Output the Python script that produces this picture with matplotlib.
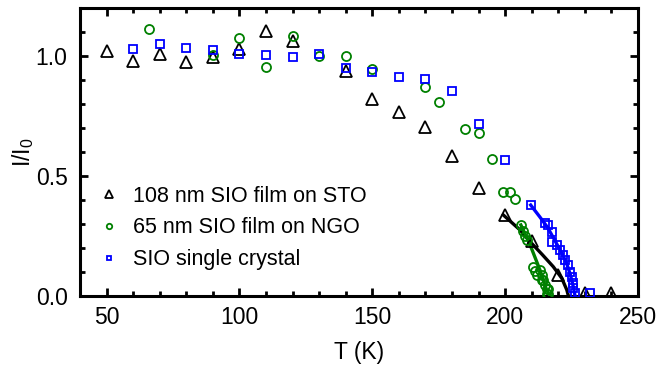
import numpy as np
import matplotlib
matplotlib.use('Agg')
import matplotlib.pyplot as plt
from matplotlib.ticker import MultipleLocator

plt.rcParams['font.family'] = ['Liberation Sans', 'DejaVu Sans']
plt.rcParams['mathtext.fontset'] = 'custom'
plt.rcParams['mathtext.rm'] = 'Liberation Sans'
plt.rcParams['mathtext.it'] = 'Liberation Sans'

# 108 nm SIO film on STO (triangles)
t_sto = [50, 60, 70, 80, 90, 100, 110, 120, 140, 150, 160, 170, 180, 190, 200, 210, 220, 230, 240]
i_sto = [1.022, 0.98, 1.01, 0.976, 0.996, 1.03, 1.105, 1.064, 0.939, 0.82, 0.767, 0.703, 0.585, 0.449,
         0.337, 0.23, 0.0875, 0.011, 0.011]

# 65 nm SIO film on NGO (circles)
t_ngo = [66, 90, 100, 110, 120, 130, 140, 150, 170, 175, 185, 190, 195, 199.3, 201.8, 203.7,
         205.9, 206.8, 207.5, 208.1, 210.6, 211.3, 211.9, 213.1, 213.8, 214.0, 214.4, 215.0,
         215.6, 216.3, 215.6, 216.1]
i_ngo = [1.112, 1.004, 1.076, 0.953, 1.085, 1.0, 1.0, 0.945, 0.869, 0.807, 0.694, 0.678, 0.57, 0.435,
         0.435, 0.403, 0.296, 0.27, 0.25, 0.233, 0.122, 0.105, 0.0875, 0.108, 0.0875, 0.067,
         0.067, 0.046, 0.03, 0.03, 0.01, 0.008]

# SIO single crystal (squares)
t_sc = [60, 70, 80, 90, 100, 110, 120, 130, 140, 150, 160, 170, 180, 190, 200, 209.6,
        215.0, 216.3, 217.5, 217.5, 219.4, 220.7, 221.6, 222.5, 223.8, 224.4, 225.1, 225.4,
        225.6, 226.3, 231.9]
i_sc = [1.028, 1.05, 1.032, 1.025, 1.007, 1.004, 0.994, 1.007, 0.949, 0.932, 0.914, 0.904, 0.855,
        0.717, 0.565, 0.379, 0.303, 0.296, 0.268, 0.226, 0.212, 0.192, 0.171, 0.15, 0.129,
        0.101, 0.08, 0.055, 0.032, 0.011, 0.011]

# fit curves near the transition
fit_t_sto = [199.3, 205.6, 209.4, 214.0, 218.1, 221.3, 223.2, 223.8]
fit_i_sto = [0.3375, 0.275, 0.226, 0.172, 0.122, 0.074, 0.025, 0.0]
fit_t_ngo = [205.9, 209.4, 213.1, 215.6, 216.9]
fit_i_ngo = [0.296, 0.2125, 0.108, 0.025, 0.0]
fit_t_sc = [209.6, 213.0, 216.0, 219.0, 221.0, 223.0, 224.5, 225.5, 226.3]
fit_i_sc = [0.379, 0.33, 0.285, 0.225, 0.185, 0.14, 0.09, 0.045, 0.0]

green = '#008000'
blue = '#0000ff'

fig = plt.figure(figsize=(6.59, 3.68), dpi=100)
ax = fig.add_axes([0.1214, 0.1957, 0.8468, 0.7826])

ax.plot(fit_t_sto, fit_i_sto, color='black', lw=2.4, zorder=3)
ax.plot(fit_t_ngo, fit_i_ngo, color=green, lw=2.4, zorder=3)
ax.plot(fit_t_sc, fit_i_sc, color=blue, lw=2.4, zorder=3)

ax.plot(t_sto, i_sto, ls='none', marker='^', ms=8.5, mfc='none', mec='black', mew=1.3,
        label='108 nm SIO film on STO', zorder=4)
ax.plot(t_ngo, i_ngo, ls='none', marker='o', ms=6.5, mfc='none', mec=green, mew=1.3,
        label='65 nm SIO film on NGO', zorder=4)
ax.plot(t_sc, i_sc, ls='none', marker='s', ms=5.2, mfc='none', mec=blue, mew=1.3,
        label='SIO single crystal', zorder=4)

ax.set_xlim(40, 250)
ax.set_ylim(0, 1.2)
ax.xaxis.set_major_locator(MultipleLocator(50))
ax.xaxis.set_minor_locator(MultipleLocator(10))
ax.yaxis.set_major_locator(MultipleLocator(0.5))
ax.yaxis.set_minor_locator(MultipleLocator(0.1))
ax.tick_params(which='both', direction='in', top=True, right=True, labelsize=16.5, width=2)
ax.tick_params(which='major', length=6)
ax.tick_params(which='minor', length=3.5)
ax.tick_params(axis='x', which='major', pad=7)
ax.tick_params(axis='y', which='major', pad=9)
for s in ax.spines.values():
    s.set_linewidth(2.2)

ax.set_xlabel('T (K)', fontsize=16.5, labelpad=9)
ax.set_ylabel('I/I$_0$', fontsize=16.5, labelpad=0)

leg = ax.legend(loc='lower left', bbox_to_anchor=(0.033, 0.09), frameon=False, fontsize=15.5,
                handlelength=1.0, handletextpad=0.6, labelspacing=0.5, borderpad=0,
                borderaxespad=0, numpoints=1, markerscale=0.6)

fig.savefig('out.png', dpi=100)
